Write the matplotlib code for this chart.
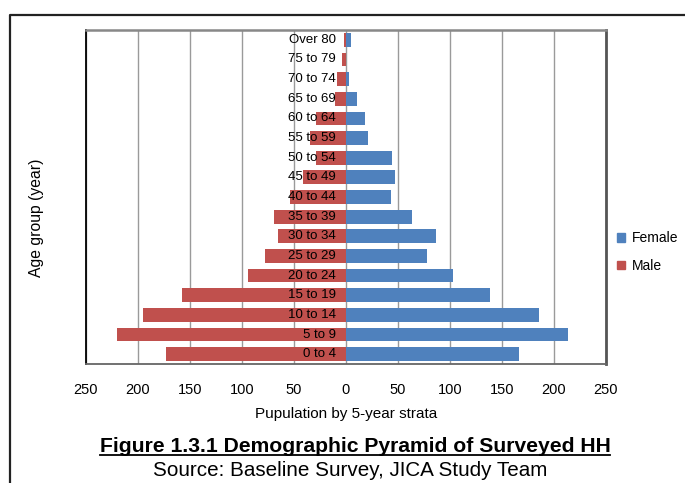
import matplotlib
matplotlib.use('Agg')
import matplotlib.pyplot as plt
from matplotlib.lines import Line2D
from matplotlib.patches import Patch
import numpy as np

plt.rcParams['font.family'] = ['Liberation Sans', 'DejaVu Sans']

# age groups, bottom to top
age_groups = ['0 to 4', '5 to 9', '10 to 14', '15 to 19', '20 to 24', '25 to 29',
              '30 to 34', '35 to 39', '40 to 44', '45 to 49', '50 to 54', '55 to 59',
              '60 to 64', '65 to 69', '70 to 74', '75 to 79', 'Over 80']
female = [166, 213, 186, 138, 103, 78, 87, 63, 43, 47, 44, 21, 18, 11, 3, 0, 5]
male = [173, 220, 195, 158, 94, 78, 65, 69, 54, 41, 29, 35, 29, 11, 9, 4, 2]
x_ticks = [-250, -200, -150, -100, -50, 0, 50, 100, 150, 200, 250]

female_color = '#4F81BD'
male_color = '#C0504D'

fig = plt.figure(figsize=(6.85, 4.83), dpi=100)
ax = fig.add_axes([86/685, 1-364/483, 520/685, 334/483])

y = np.arange(len(age_groups))
ax.barh(y, female, height=0.7, color=female_color, zorder=2)
ax.barh(y, [-m for m in male], height=0.7, color=male_color, zorder=2)

ax.set_xlim(-250, 250)
ax.set_ylim(-0.5, len(age_groups) - 0.5)
ax.set_xticks(x_ticks)
ax.set_xticklabels([str(abs(t)) for t in x_ticks], fontsize=10.5)
ax.tick_params(axis='x', length=0, pad=14)
ax.set_yticks([])
ax.grid(axis='x', color='#9a9a9a', lw=1, zorder=1)

# category labels sit next to the zero line
for i, lab in enumerate(age_groups):
    ax.annotate(lab, xy=(0, i), xytext=(-7.5, 0), textcoords='offset points',
                ha='right', va='center', fontsize=9.5, zorder=3)

ax.spines['left'].set_color('black')
ax.spines['left'].set_linewidth(1.3)
ax.spines['bottom'].set_color('#666666')
ax.spines['bottom'].set_linewidth(1.3)
ax.spines['top'].set_color('#888888')
ax.spines['top'].set_linewidth(1.8)
ax.spines['right'].set_color('#555555')
ax.spines['right'].set_linewidth(2)

ax.set_xlabel('Pupulation by 5-year strata', fontsize=11, labelpad=7)
fig.text(36/685, 1-218/483, 'Age group (year)', rotation=90, ha='center', va='center', fontsize=11.3)

handles = [Patch(color=female_color, label='Female'), Patch(color=male_color, label='Male')]
fig.legend(handles=handles, loc='center left', bbox_to_anchor=(604/685, 1-252/483),
           frameon=False, fontsize=10, handlelength=0.6, handleheight=0.6,
           handletextpad=0.5, labelspacing=1.0)

# outer border of the page frame
fig.add_artist(Line2D([10/685, 10/685, 1.0], [0, 1-15/483, 1-15/483],
                      transform=fig.transFigure, color='#222222', lw=1.6))

title = fig.text(355/685, 1-446/483, 'Figure 1.3.1 Demographic Pyramid of Surveyed HH',
                 ha='center', va='center', fontsize=15.2, fontweight='bold')
fig.text(350/685, 1-471/483, 'Source: Baseline Survey, JICA Study Team',
         ha='center', va='center', fontsize=14.9)

# underline the title
fig.canvas.draw()
bb = title.get_window_extent().transformed(fig.transFigure.inverted())
fig.add_artist(Line2D([bb.x0, bb.x1], [bb.y0 + 0.002, bb.y0 + 0.002],
                      transform=fig.transFigure, color='black', lw=1.3))

fig.savefig('out.png', dpi=100)
